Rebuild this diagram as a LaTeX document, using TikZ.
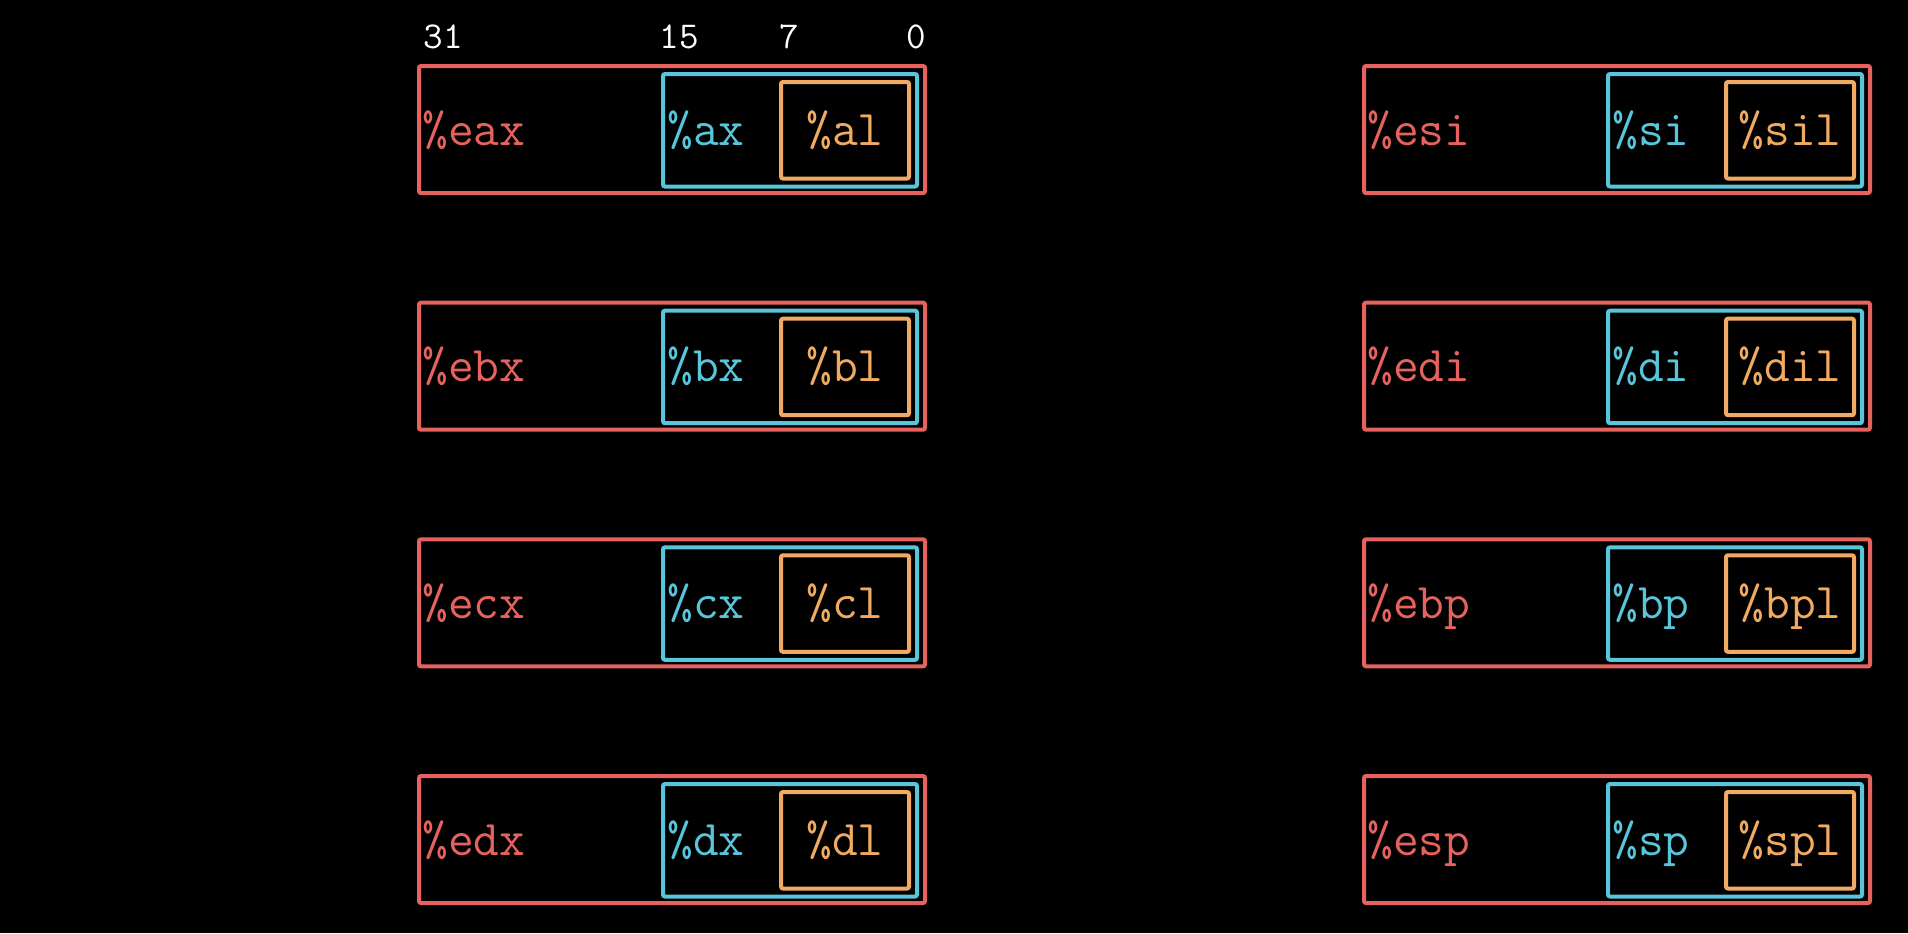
\documentclass[tikz,border=0pt]{standalone}
\usepackage{tikz}

\definecolor{regred}{RGB}{229,98,94}
\definecolor{regblue}{RGB}{88,197,218}
\definecolor{regorange}{RGB}{240,170,98}

\begin{document}
\begin{tikzpicture}[x=0.5pt, y=-0.5pt,
  box32/.style={draw=regred, line width=2pt, rounded corners=1pt},
  box16/.style={draw=regblue, line width=2pt, rounded corners=1pt},
  box8/.style={draw=regorange, line width=2pt, rounded corners=1pt},
  regname/.style={inner sep=0pt, font=\ttfamily\fontsize{25}{25}\selectfont},
  name32/.style={regname, text=regred, anchor=base west},
  name16/.style={regname, text=regblue, anchor=base west},
  name8/.style={regname, text=regorange, anchor=base},
  bitnum/.style={inner sep=0pt, text=white, anchor=base, font=\ttfamily\fontsize{19}{19}\selectfont}]

\fill[black] (0,0) rectangle (1908,933);
\useasboundingbox (0,0) rectangle (1908,933);

% 32 bit registers
\draw[box32] (419,66)    rectangle (925,193);
\draw[box32] (419,302.7) rectangle (925,429.7);
\draw[box32] (419,539.3) rectangle (925,666.3);
\draw[box32] (419,776)   rectangle (925,903);
\draw[box32] (1364,66)    rectangle (1870,193);
\draw[box32] (1364,302.7) rectangle (1870,429.7);
\draw[box32] (1364,539.3) rectangle (1870,666.3);
\draw[box32] (1364,776)   rectangle (1870,903);

% 16 bit halves
\draw[box16] (663,74)    rectangle (917,186.5);
\draw[box16] (663,310.7) rectangle (917,423.2);
\draw[box16] (663,547.3) rectangle (917,659.8);
\draw[box16] (663,784)   rectangle (917,896.5);
\draw[box16] (1608,74)    rectangle (1862,186.5);
\draw[box16] (1608,310.7) rectangle (1862,423.2);
\draw[box16] (1608,547.3) rectangle (1862,659.8);
\draw[box16] (1608,784)   rectangle (1862,896.5);

% low bytes
\draw[box8] (781,82)    rectangle (909,178.5);
\draw[box8] (781,318.7) rectangle (909,415.2);
\draw[box8] (781,555.3) rectangle (909,651.8);
\draw[box8] (781,792)   rectangle (909,888.5);
\draw[box8] (1726,82)    rectangle (1854,178.5);
\draw[box8] (1726,318.7) rectangle (1854,415.2);
\draw[box8] (1726,555.3) rectangle (1854,651.8);
\draw[box8] (1726,792)   rectangle (1854,888.5);

\node[bitnum] (b31) at (443,48)   {31};
\node[bitnum] (b15) at (679,48)   {15};
\node[bitnum] (b7)  at (789.5,48) {7};
\node[bitnum] (b0)  at (916.5,48) {0};

\node[name32] (eax) at (422,145)   {\%eax};
\node[name32] (ebx) at (422,381.7) {\%ebx};
\node[name32] (ecx) at (422,618.3) {\%ecx};
\node[name32] (edx) at (422,855)   {\%edx};
\node[name32] (esi) at (1367,145)   {\%esi};
\node[name32] (edi) at (1367,381.7) {\%edi};
\node[name32] (ebp) at (1367,618.3) {\%ebp};
\node[name32] (esp) at (1367,855)   {\%esp};

\node[name16] (ax) at (667,145)   {\%ax};
\node[name16] (bx) at (667,381.7) {\%bx};
\node[name16] (cx) at (667,618.3) {\%cx};
\node[name16] (dx) at (667,855)   {\%dx};
\node[name16] (si) at (1612,145)   {\%si};
\node[name16] (di) at (1612,381.7) {\%di};
\node[name16] (bp) at (1612,618.3) {\%bp};
\node[name16] (sp) at (1612,855)   {\%sp};

\node[name8] (al) at (845,145)   {\%al};
\node[name8] (bl) at (845,381.7) {\%bl};
\node[name8] (cl) at (845,618.3) {\%cl};
\node[name8] (dl) at (845,855)   {\%dl};
\node[name8] (sil) at (1790,145)   {\%sil};
\node[name8] (dil) at (1790,381.7) {\%dil};
\node[name8] (bpl) at (1790,618.3) {\%bpl};
\node[name8] (spl) at (1790,855)   {\%spl};

\end{tikzpicture}
\end{document}
